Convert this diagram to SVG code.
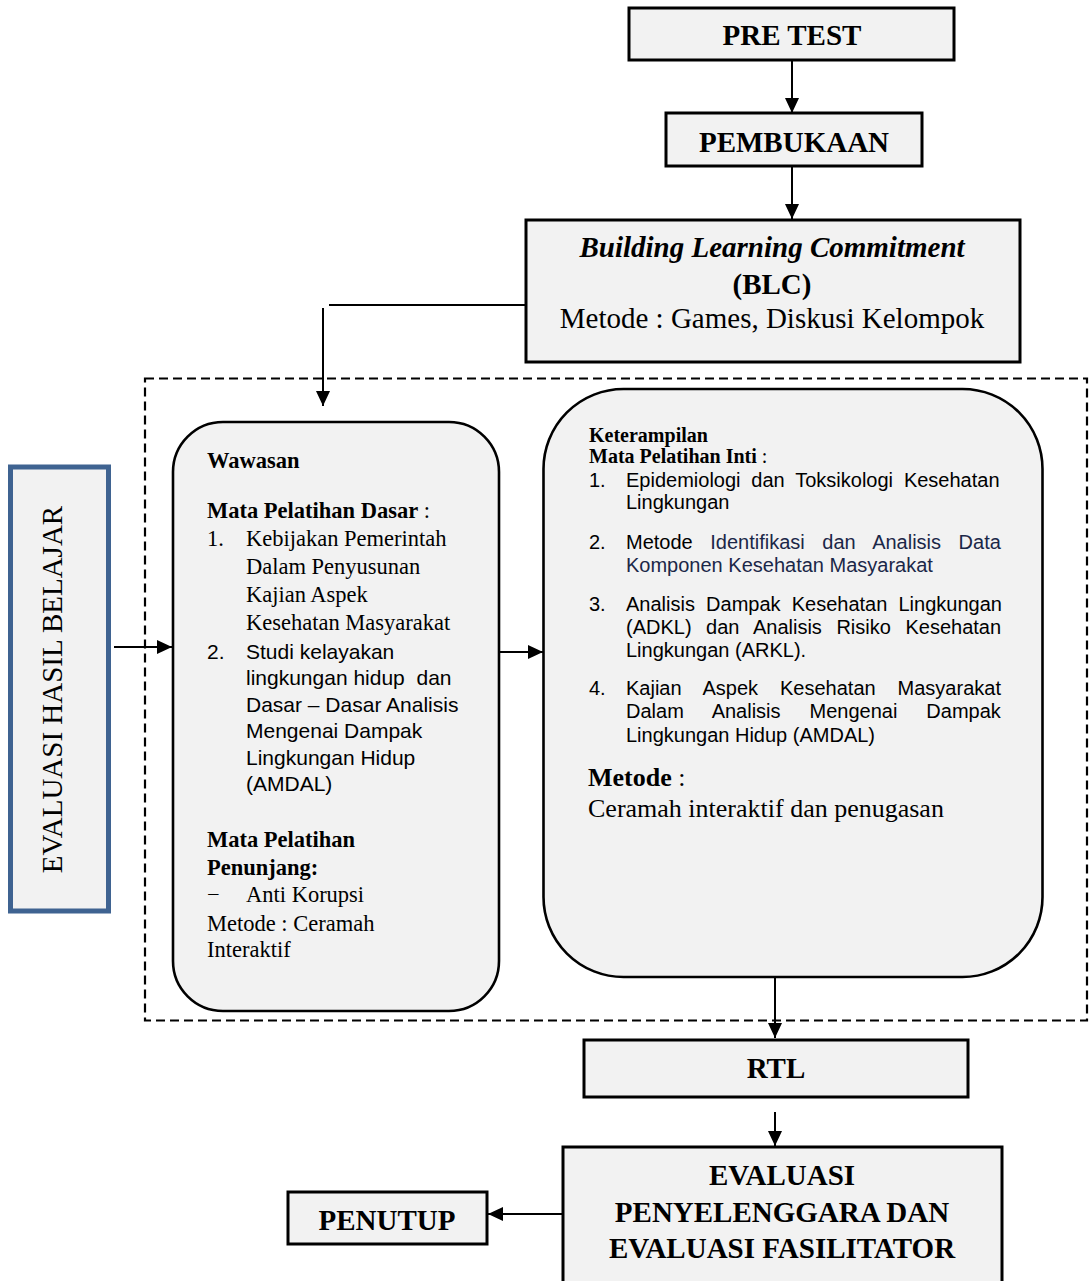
<svg xmlns="http://www.w3.org/2000/svg" width="1092" height="1281" viewBox="0 0 1092 1281">
<defs>
<style>
.box{fill:#f2f2f2;stroke:#000;stroke-width:3}
.rbox{fill:#f2f2f2;stroke:#000;stroke-width:2.6}
.conn{stroke:#000;stroke-width:2;fill:none}
.serif{font-family:"Liberation Serif","Times New Roman",serif;fill:#000}
.sans{font-family:"Liberation Sans",Arial,sans-serif;fill:#000}
.b{font-weight:bold}
.title{font-family:"Liberation Serif","Times New Roman",serif;font-weight:bold;font-size:29px;text-anchor:middle;fill:#000}
.lt{font-size:22.5px}
.ls{font-size:21px}
.rs{font-size:20px}
.navy{fill:#1b2748}
</style>
<marker id="ah" markerUnits="userSpaceOnUse" markerWidth="16" markerHeight="14" refX="15" refY="7" orient="auto">
<path d="M0,0 L15,7 L0,14 z" fill="#000"/>
</marker>
</defs>
<rect width="1092" height="1281" fill="#fff"/>

<g id="connectors">
<line class="conn" x1="792" y1="60" x2="792" y2="113" marker-end="url(#ah)"/>
<line class="conn" x1="792" y1="166" x2="792" y2="219" marker-end="url(#ah)"/>
<line class="conn" x1="526" y1="305" x2="329" y2="305"/>
<line class="conn" x1="323" y1="308" x2="323" y2="406" marker-end="url(#ah)"/>
<line class="conn" x1="114" y1="647" x2="172" y2="647" marker-end="url(#ah)"/>
<line class="conn" x1="499" y1="652" x2="543" y2="652" marker-end="url(#ah)"/>
<line class="conn" x1="775" y1="974" x2="775" y2="1038" marker-end="url(#ah)"/>
<line class="conn" x1="775" y1="1112" x2="775" y2="1146" marker-end="url(#ah)"/>
<line class="conn" x1="563" y1="1214" x2="488" y2="1214" marker-end="url(#ah)"/>
</g>

<g id="dashed-frame">
<rect x="145" y="378.5" width="942" height="642" fill="none" stroke="#000" stroke-width="2.2" stroke-dasharray="9,5"/>
</g>

<g id="pre-test">
<rect class="box" x="629" y="8" width="325" height="52"/>
<text class="title" x="792" y="45">PRE TEST</text>
</g>

<g id="pembukaan">
<rect class="box" x="666" y="113" width="256" height="53"/>
<text class="title" x="794" y="152">PEMBUKAAN</text>
</g>

<g id="blc">
<rect class="box" x="526" y="220" width="494" height="142"/>
<text class="title" x="772" y="257" font-style="italic">Building Learning Commitment</text>
<text class="title" x="772" y="294">(BLC)</text>
<text class="serif" x="772" y="328" font-size="29" text-anchor="middle">Metode : Games, Diskusi Kelompok</text>
</g>

<g id="evaluasi-hasil-belajar">
<rect x="10.5" y="467" width="98" height="444" fill="#f2f2f2" stroke="#3f6391" stroke-width="5"/>
<text class="serif" font-size="29" text-anchor="middle" transform="translate(62,689.5) rotate(-90)">EVALUASI HASIL BELAJAR</text>
</g>

<g id="wawasan">
<rect class="rbox" x="173" y="422" width="326" height="589" rx="50" ry="50"/>
<text class="serif b lt" x="207" y="468">Wawasan</text>
<text class="serif lt" x="207" y="518"><tspan class="b">Mata Pelatihan Dasar</tspan> :</text>
<text class="serif lt" x="207" y="546">1.</text>
<text class="serif lt" x="246" y="546">Kebijakan Pemerintah</text>
<text class="serif lt" x="246" y="574">Dalam Penyusunan</text>
<text class="serif lt" x="246" y="602">Kajian Aspek</text>
<text class="serif lt" x="246" y="630">Kesehatan Masyarakat</text>
<text class="sans ls" x="207" y="659">2.</text>
<text class="sans ls" x="246" y="659">Studi kelayakan</text>
<text class="sans ls" x="246" y="685" xml:space="preserve">lingkungan hidup  dan</text>
<text class="sans ls" x="246" y="712">Dasar – Dasar Analisis</text>
<text class="sans ls" x="246" y="738">Mengenai Dampak</text>
<text class="sans ls" x="246" y="765">Lingkungan Hidup</text>
<text class="sans ls" x="246" y="791">(AMDAL)</text>
<text class="serif b lt" x="207" y="847">Mata Pelatihan</text>
<text class="serif b lt" x="207" y="875">Penunjang:</text>
<text class="serif lt" x="207" y="902">−</text>
<text class="serif lt" x="246" y="902">Anti Korupsi</text>
<text class="serif lt" x="207" y="931">Metode : Ceramah</text>
<text class="serif lt" x="207" y="957">Interaktif</text>
</g>

<g id="keterampilan">
<rect class="rbox" x="543.5" y="389" width="499" height="588" rx="80" ry="80"/>
<text class="serif b" font-size="20" x="589" y="442">Keterampilan</text>
<text class="serif" font-size="20" x="589" y="463"><tspan class="b">Mata Pelatihan Inti</tspan> :</text>
<text class="sans rs" x="589" y="487">1.</text>
<text class="sans rs" x="626" y="487" word-spacing="5.3">Epidemiologi dan Toksikologi Kesehatan</text>
<text class="sans rs" x="626" y="509">Lingkungan</text>
<text class="sans rs" x="589" y="549">2.</text>
<text class="sans rs" x="626" y="549" word-spacing="12">Metode <tspan class="navy">Identifikasi dan Analisis Data</tspan></text>
<text class="sans rs navy" x="626" y="572">Komponen Kesehatan Masyarakat</text>
<text class="sans rs" x="589" y="611">3.</text>
<text class="sans rs" x="626" y="611" word-spacing="5.6">Analisis Dampak Kesehatan Lingkungan</text>
<text class="sans rs" x="626" y="634" word-spacing="9">(ADKL) dan Analisis Risiko Kesehatan</text>
<text class="sans rs" x="626" y="657">Lingkungan (ARKL).</text>
<text class="sans rs" x="589" y="695">4.</text>
<text class="sans rs" x="626" y="695" word-spacing="16.4">Kajian Aspek Kesehatan Masyarakat</text>
<text class="sans rs" x="626" y="718" word-spacing="23.4">Dalam Analisis Mengenai Dampak</text>
<text class="sans rs" x="626" y="742">Lingkungan Hidup (AMDAL)</text>
<text class="serif" font-size="26" x="588" y="786"><tspan class="b">Metode</tspan> :</text>
<text class="serif" font-size="26" x="588" y="817">Ceramah interaktif dan penugasan</text>
</g>

<g id="rtl">
<rect class="box" x="584" y="1040" width="384" height="57"/>
<text class="title" x="776" y="1078">RTL</text>
</g>

<g id="evaluasi-penyelenggara">
<rect class="box" x="563" y="1147" width="439" height="150"/>
<text class="title" x="782" y="1185">EVALUASI</text>
<text class="title" x="782" y="1222">PENYELENGGARA DAN</text>
<text class="title" x="782" y="1258">EVALUASI FASILITATOR</text>
</g>

<g id="penutup">
<rect class="box" x="288" y="1192" width="199" height="52"/>
<text class="title" x="387" y="1230">PENUTUP</text>
</g>
</svg>
